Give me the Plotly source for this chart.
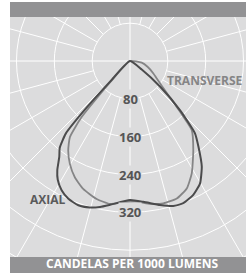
import numpy as np
import plotly.graph_objects as go

# Photometric data: angle from nadir (deg, negative = left) and candela per 1000 lumens
axial_angle = [-46, -44, -42.7, -41.5, -39, -36.4, -33.7, -31.3, -27.9, -24.1, -19.7, -15.3, -11.6, -7.9,
               0, 5.4, 11.8, 16.6, 20.5, 25.3, 29.8, 34.2, 38.6, 42, 45.5, 49.5, 54, 57]
axial_cd = [0, 60, 150, 205, 236, 252, 277, 294, 309, 319, 324, 321, 315, 307,
            294, 299, 311, 320, 321, 313, 298, 270, 232, 205, 148, 84, 30, 0]

transverse_angle = [-45, -43, -40.8, -38.3, -34.6, -30.3, -25.4, -20.1, -13.6, -8, -2.7, 3, 8, 13.2,
                    18.8, 24, 28.8, 35.4, 41.8, 44, 47, 52, 57, 62, 71.8, 81.7, 86]
transverse_cd = [0, 60, 156, 205, 230, 252, 272, 288, 300, 305, 299, 298, 305, 309,
                 307, 295, 271, 231, 196, 160, 120, 85, 67, 56, 39, 25, 0]

ring_values = [80, 160, 240, 320, 400, 480, 560]
ring_labels = ["80", "160", "240", "320"]
spoke_step = 15

W, H = 246, 273
ML, MR, MT, MB = 10, 0, 17, 16
k = 0.473  # px per candela
cx_px, cy_px = 130, 61
pw, ph = W - ML - MR, H - MT - MB
x_range = [-(cx_px - ML) / k, (W - MR - cx_px) / k]
y_range = [-(H - MB - cy_px) / k, (cy_px - MT) / k]

BG = "#dcdcdd"
BAR = "#929294"


def to_xy(ang, cd):
    a = np.radians(np.array(ang, dtype=float))
    r = np.array(cd, dtype=float)
    return r * np.sin(a), -r * np.cos(a)


fig = go.Figure()

shapes = []
for rv in ring_values:
    shapes.append(dict(type="circle", xref="x", yref="y", x0=-rv, x1=rv, y0=-rv, y1=rv,
                       line=dict(color="white", width=1), layer="below"))
rmax = 900
for deg in range(0, 360, spoke_step):
    a = np.radians(deg)
    r0 = 0 if deg % 90 == 0 else ring_values[0]
    shapes.append(dict(type="line", xref="x", yref="y",
                       x0=r0 * np.sin(a), y0=-r0 * np.cos(a),
                       x1=rmax * np.sin(a), y1=-rmax * np.cos(a),
                       line=dict(color="white", width=1), layer="below"))
# header and footer bars
shapes.append(dict(type="rect", xref="paper", yref="paper", x0=0, x1=1,
                   y0=1, y1=1 + 15 / ph, fillcolor=BAR, line=dict(width=0)))
shapes.append(dict(type="rect", xref="paper", yref="paper", x0=0, x1=1,
                   y0=-MB / ph, y1=0, fillcolor=BAR, line=dict(width=0)))

ax, ay = to_xy(axial_angle, axial_cd)
tx, ty = to_xy(transverse_angle, transverse_cd)
fig.add_trace(go.Scatter(x=tx, y=ty, mode="lines", name="TRANSVERSE",
                         line=dict(color="#858586", width=1.8, shape="spline", smoothing=0.5),
                         hoverinfo="skip"))
fig.add_trace(go.Scatter(x=ax, y=ay, mode="lines", name="AXIAL",
                         line=dict(color="#4b4b4c", width=2, shape="spline", smoothing=0.5),
                         hoverinfo="skip"))

annotations = []
for lab in ring_labels:
    annotations.append(dict(x=0, y=-float(lab), xref="x", yref="y", text=lab, showarrow=False,
                            font=dict(family="Open Sans", size=13, color="#555556", weight="bold"),
                            bgcolor=BG, borderpad=0, xanchor="center", yanchor="middle"))


def px_to_paper(px, py):
    return (px - ML) / pw, (H - MB - py) / ph


x_t, y_t = px_to_paper(205, 80.8)
annotations.append(dict(x=x_t, y=y_t, xref="paper", yref="paper", text="TRANSVERSE", showarrow=False,
                        font=dict(family="Open Sans", size=12, color="#858586", weight="bold"),
                        xanchor="center", yanchor="middle"))
x_a, y_a = px_to_paper(47.5, 199.5)
annotations.append(dict(x=x_a, y=y_a, xref="paper", yref="paper", text="AXIAL", showarrow=False,
                        font=dict(family="Open Sans", size=12, color="#5a5a5b", weight="bold"),
                        xanchor="center", yanchor="middle"))
x_c, _ = px_to_paper(132, 266)
annotations.append(dict(x=x_c, y=-MB / ph, xref="paper", yref="paper", text="CANDELAS PER 1000 LUMENS",
                        showarrow=False, borderpad=0,
                        font=dict(family="Open Sans", size=12, color="white", weight="bold"),
                        xanchor="center", yanchor="bottom"))

fig.update_layout(
    width=W, height=H,
    margin=dict(l=ML, r=MR, t=MT, b=MB, pad=0),
    paper_bgcolor="white", plot_bgcolor=BG,
    showlegend=False,
    shapes=shapes, annotations=annotations,
    xaxis=dict(range=x_range, visible=False, fixedrange=True),
    yaxis=dict(range=y_range, visible=False, fixedrange=True),
)

fig.write_html("out.html", config={"displayModeBar": False},
               post_script="document.body.style.margin='0';document.body.style.overflow='hidden';")
